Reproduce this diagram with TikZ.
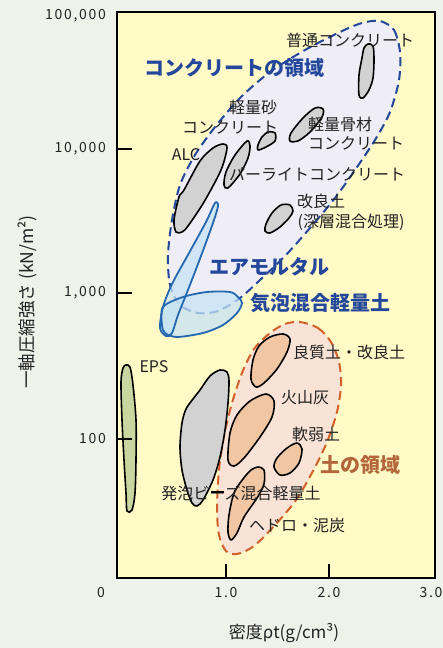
\documentclass[tikz,border=0pt]{standalone}
\usepackage{fontspec}
\setmainfont{Noto Sans CJK JP}
\newfontfamily\numfont[LetterSpace=12]{Noto Sans CJK JP}
\definecolor{bg}{HTML}{EEF2E9}
\definecolor{plotbg}{HTML}{FFFAC6}
\definecolor{concfill}{HTML}{EFEEF6}
\definecolor{concline}{HTML}{23479A}
\definecolor{soilfill}{HTML}{F8E3D6}
\definecolor{soilline}{HTML}{D2602A}
\definecolor{soilblob}{HTML}{F0C6A3}
\definecolor{grayblob}{HTML}{D2D2D2}
\definecolor{blufill}{HTML}{C6E3F5}
\definecolor{bluline}{HTML}{2468B0}
\definecolor{epsfill}{HTML}{C9D6A0}
\definecolor{soiltxt}{HTML}{B2663A}
\definecolor{txt}{HTML}{222222}
\tikzset{
  region/.style={line width=2pt,dash pattern=on 9pt off 5pt},
  blob/.style={draw=black,line width=1.6pt,line join=round},
  lbl/.style={font=\fontsize{16}{16}\selectfont,text=txt,inner sep=0pt},
  biglbl/.style={font=\fontsize{20}{20}\selectfont\bfseries,inner sep=0pt},
  ticklbl/.style={font=\numfont\fontsize{14}{14}\selectfont,text=txt,inner sep=0pt},
  axisline/.style={line width=2.6pt}
}
\begin{document}
\begin{tikzpicture}[x=1pt,y=-1pt]
\useasboundingbox (0,0) rectangle (443,648);
\fill[bg] (0,0) rectangle (443,648);
\fill[plotbg] (117,12) rectangle (435,578);
\draw[region,draw=concline,fill=concfill] plot[smooth cycle] coordinates {(380,21) (394,30) (400,52) (399,80) (390,112) (375,140) (355,170) (335,198) (310,228) (285,256) (260,280) (240,298) (218,311) (198,313) (180,305) (170,285) (168,255) (172,220) (180,185) (195,155) (215,127) (240,98) (270,72) (305,50) (340,32) (362,23)};
\draw[region,draw=soilline,fill=soilfill] plot[smooth cycle] coordinates {(300,322) (318,328) (331,342) (339,362) (341,385) (337,412) (327,442) (313,471) (296,500) (276,524) (254,546) (237,554) (226,551) (219,535) (217,508) (219,470) (224,436) (232,403) (242,373) (254,349) (270,333) (285,324)};
\draw[blob,fill=grayblob] plot[smooth cycle] coordinates {(368,44) (373,46) (374,60) (373,78) (369,90) (363,98) (359,95) (359,75) (362,58) (364,48)};
\draw[blob,fill=grayblob] plot[smooth cycle] coordinates {(315,108) (323,109) (322,117) (310,132) (298,141) (290,141) (291,133) (303,118)};
\draw[blob,fill=grayblob] plot[smooth cycle] coordinates {(268,132) (275,133) (275,141) (266,147) (258,150) (258,145) (262,137)};
\draw[blob,fill=grayblob] plot[smooth cycle] coordinates {(247,141) (250,146) (248,158) (240,174) (228,188) (224,185) (226,172) (235,155)};
\draw[blob,fill=grayblob] plot[smooth cycle] coordinates {(223,144) (227,148) (221,170) (204,202) (188,226) (182,232) (176,232) (174,220) (179,197) (184,190) (200,161) (213,148)};
\draw[blob,fill=grayblob] plot[smooth cycle] coordinates {(281,205) (290,205) (293,211) (289,218) (280,227) (270,233) (265,231) (266,224) (272,213)};
\fill[blufill,fill opacity=0.75] plot[smooth cycle] coordinates {(215,203) (218,206) (213,223) (201,256) (188,290) (178,315) (172,333) (166,336) (160,328) (163,307) (172,284) (189,253) (206,222)};
\fill[blufill,fill opacity=0.75] plot[smooth cycle] coordinates {(163,307) (183,297) (207,292) (230,292) (238,297) (242,303) (237,313) (223,325) (203,333) (177,337) (165,333) (162,325)};
\draw[bluline,line width=1.8pt] plot[smooth cycle] coordinates {(215,203) (218,206) (213,223) (201,256) (188,290) (178,315) (172,333) (166,336) (160,328) (163,307) (172,284) (189,253) (206,222)};
\draw[bluline,line width=1.8pt] plot[smooth cycle] coordinates {(163,307) (183,297) (207,292) (230,292) (238,297) (242,303) (237,313) (223,325) (203,333) (177,337) (165,333) (162,325)};
\draw[blob,fill=soilblob] plot[smooth cycle] coordinates {(270,337) (283,334) (290,339) (287,352) (277,369) (264,383) (256,387) (251,379) (253,360) (259,346)};
\draw[blob,fill=soilblob] plot[smooth cycle] coordinates {(266,394) (274,401) (272,417) (260,437) (244,458) (234,466) (228,460) (230,433) (237,415) (250,401)};
\draw[blob,fill=soilblob] plot[smooth cycle] coordinates {(297,443) (302,449) (299,463) (290,473) (280,475) (274,467) (277,458) (287,448)};
\draw[blob,fill=soilblob] plot[smooth cycle] coordinates {(258,467) (264,470) (264,484) (257,498) (244,517) (237,533) (231,540) (228,532) (229,515) (234,493) (243,479) (251,470)};
\draw[blob,fill=grayblob] plot[smooth cycle] coordinates {(220,370) (227,372) (229,381) (228,403) (225,430) (220,457) (213,480) (203,500) (197,506) (192,503) (187,490) (182,470) (180,447) (182,423) (186,409) (193,399) (200,390) (210,376)};
\draw[blob,fill=epsfill] plot[smooth cycle] coordinates {(126,365) (130,367) (133,385) (136,420) (136,460) (135,493) (132,510) (127,511) (126,493) (124,460) (122,420) (121,382) (123,368)};
\foreach \y in {149,293,439} \draw[axisline] (117,\y) -- (132,\y);
\foreach \x in {226,329} \draw[axisline] (\x,578) -- (\x,564);
\draw[axisline] (117,12) rectangle (435,578);
\node[ticklbl,anchor=east] (y5) at (106,16) {100,000};
\node[ticklbl,anchor=east] (y4) at (106,149) {10,000};
\node[ticklbl,anchor=east] (y3) at (106,293) {1,000};
\node[ticklbl,anchor=east] (y2) at (106,439) {100};
\node[ticklbl] (x0) at (101,593) {0};
\node[ticklbl] (x1) at (226,593) {1.0};
\node[ticklbl] (x2) at (329,593) {2.0};
\node[ticklbl] (x3) at (431,593) {3.0};
\node[lbl,font=\fontsize{17}{17}\selectfont] (xtitle) at (284,633) {密度ρt(g/cm³)};
\node[lbl,font=\fontsize{17.5}{17.5}\selectfont,rotate=90] (ytitle) at (27,302) {一軸圧縮強さ (kN/m²)};
\node[biglbl,text=concline] (conc) at (234,68) {コンクリートの領域};
\node[lbl] (futsu) at (350,40) {普通コンクリート};
\node[lbl] (sand1) at (253,107) {軽量砂};
\node[lbl] (sand2) at (230,127) {コンクリート};
\node[lbl,anchor=west] (agg1) at (308,124) {軽量骨材};
\node[lbl,anchor=west] (agg2) at (308,143) {コンクリート};
\node[lbl] (alc) at (186,155) {ALC};
\node[lbl] (perl) at (317,174) {パーライトコンクリート};
\node[lbl,anchor=west] (kairyo1) at (297,201) {改良土};
\node[lbl] (kairyo2) at (351,222) {(深層混合処理)};
\node[biglbl,text=concline] (airm) at (269,267) {エアモルタル};
\node[biglbl,text=concline] (foam) at (320,303) {気泡混合軽量土};
\node[lbl] (ryoshitsu) at (349,352) {良質土・改良土};
\node[lbl] (eps) at (154,367) {EPS};
\node[lbl] (kazan) at (305,398) {火山灰};
\node[lbl] (nanjaku) at (316,434) {軟弱土};
\node[biglbl,text=soiltxt] (soil) at (360,465) {土の領域};
\node[lbl] (beads) at (241,493) {発泡ビーズ混合軽量土};
\node[lbl] (hedoro) at (297,525) {ヘドロ・泥炭};
\coordinate (beadsa) at (211,492);
\coordinate (beadsb) at (224,492);
\draw[line width=2pt] (beadsa) -- (beadsb);
\end{tikzpicture}
\end{document}
